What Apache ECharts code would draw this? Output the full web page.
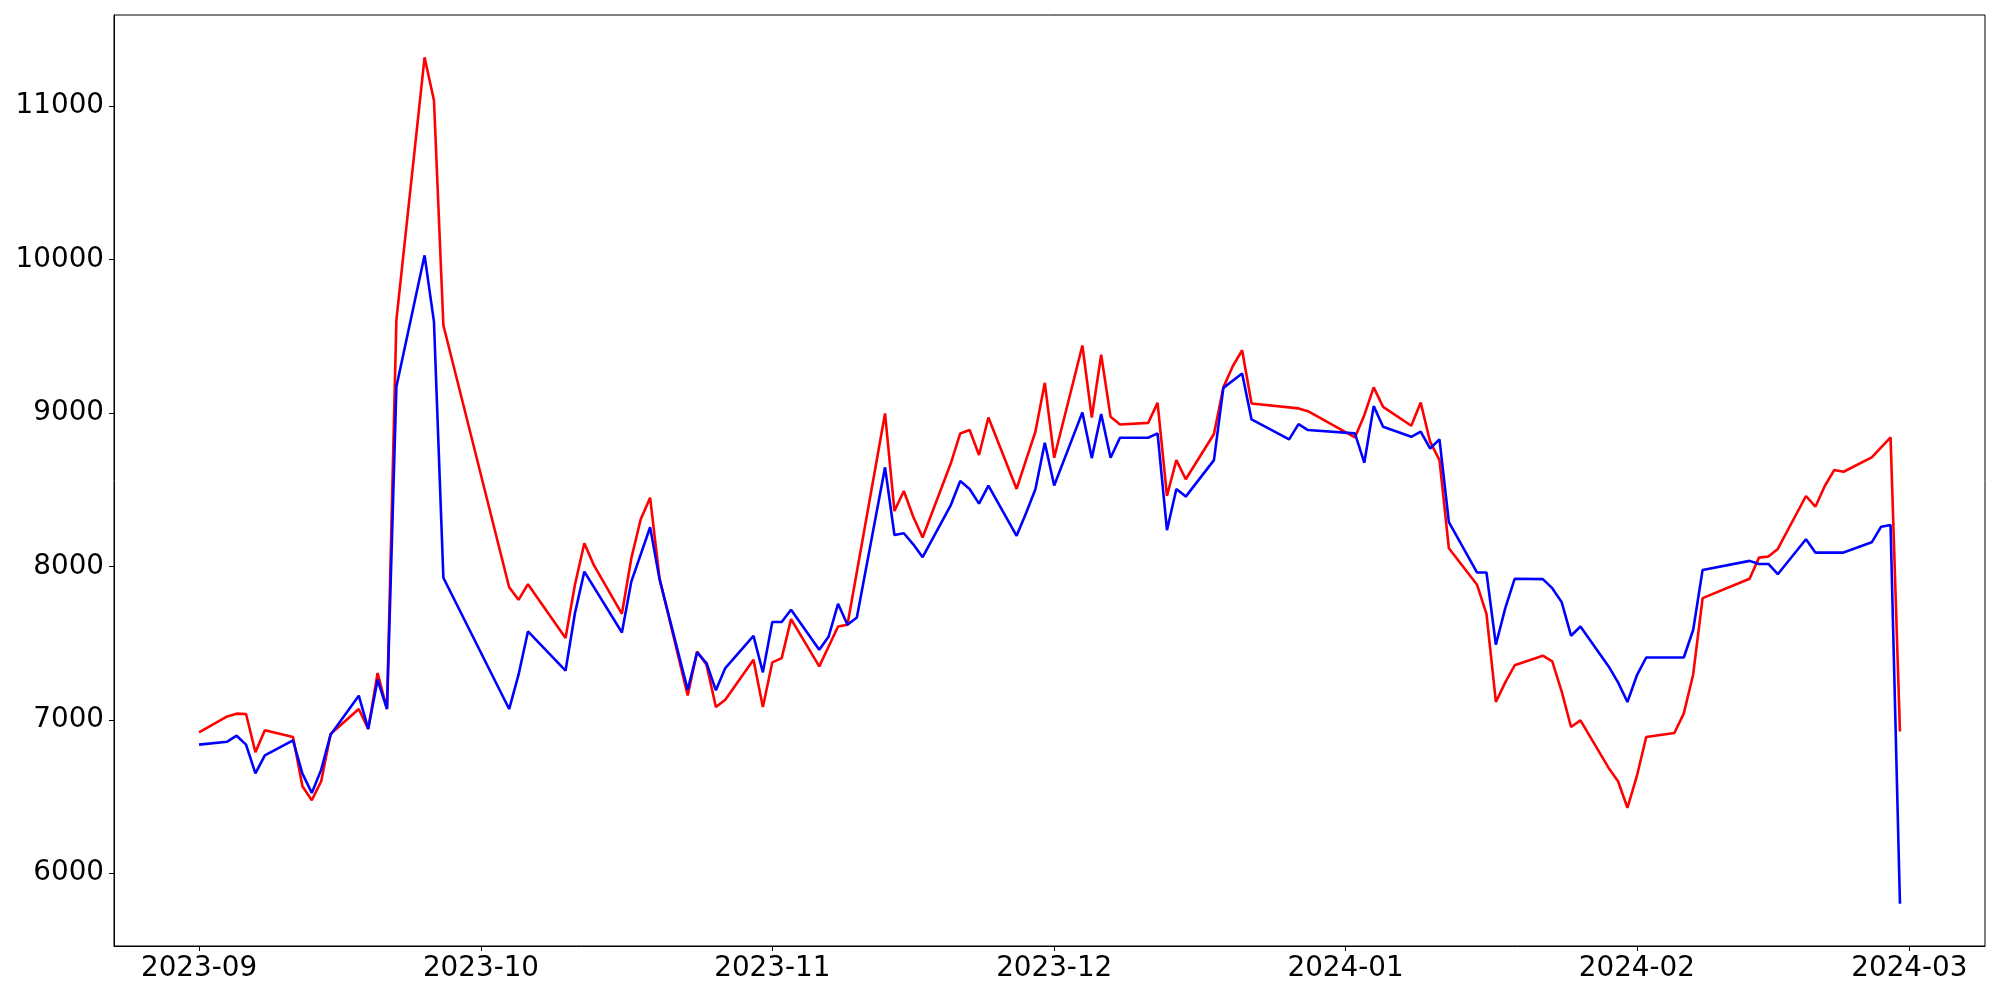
<!DOCTYPE html>
<html>
<head>
<meta charset="utf-8">
<script src="https://cdn.jsdelivr.net/npm/echarts@6/dist/echarts.min.js"></script>
<style>html,body{margin:0;padding:0;background:#fff;}#c{width:2000px;height:1000px;}</style>
</head>
<body>
<div id="c"></div>
<script>
const redDates = ["2023-09-01","2023-09-04","2023-09-05","2023-09-06","2023-09-07","2023-09-08","2023-09-11","2023-09-12","2023-09-13","2023-09-14","2023-09-15","2023-09-18","2023-09-19","2023-09-20","2023-09-21","2023-09-22","2023-09-25","2023-09-26","2023-09-27","2023-10-04","2023-10-05","2023-10-06","2023-10-10","2023-10-11","2023-10-12","2023-10-13","2023-10-16","2023-10-17","2023-10-18","2023-10-19","2023-10-20","2023-10-23","2023-10-24","2023-10-25","2023-10-26","2023-10-27","2023-10-30","2023-10-31","2023-11-01","2023-11-02","2023-11-03","2023-11-06","2023-11-07","2023-11-08","2023-11-09","2023-11-13","2023-11-14","2023-11-15","2023-11-16","2023-11-17","2023-11-20","2023-11-21","2023-11-22","2023-11-23","2023-11-24","2023-11-27","2023-11-28","2023-11-29","2023-11-30","2023-12-01","2023-12-04","2023-12-05","2023-12-06","2023-12-07","2023-12-08","2023-12-11","2023-12-12","2023-12-13","2023-12-14","2023-12-15","2023-12-18","2023-12-19","2023-12-20","2023-12-21","2023-12-22","2023-12-27","2023-12-28","2024-01-02","2024-01-03","2024-01-04","2024-01-05","2024-01-08","2024-01-09","2024-01-10","2024-01-11","2024-01-12","2024-01-15","2024-01-16","2024-01-17","2024-01-18","2024-01-19","2024-01-22","2024-01-23","2024-01-24","2024-01-25","2024-01-26","2024-01-29","2024-01-30","2024-01-31","2024-02-01","2024-02-02","2024-02-05","2024-02-06","2024-02-07","2024-02-08","2024-02-13","2024-02-14","2024-02-15","2024-02-16","2024-02-19","2024-02-20","2024-02-21","2024-02-22","2024-02-23","2024-02-26","2024-02-28","2024-02-29"];
const redValues = [6918,7022,7040,7038,6788,6931,6888,6566,6475,6599,6907,7070,6940,7305,7070,9605,11319,11037,9572,7864,7782,7884,7533,7880,8151,8010,7691,8053,8307,8448,7923,7159,7445,7359,7083,7131,7391,7083,7374,7402,7656,7348,7478,7608,7619,8997,8361,8492,8324,8188,8672,8867,8889,8726,8971,8505,8693,8878,9197,8708,9440,8971,9380,8975,8925,8936,9066,8459,8693,8568,8863,9167,9305,9409,9062,9030,9012,8841,8986,9167,9040,8917,9069,8813,8693,8118,7880,7691,7116,7244,7355,7418,7381,7185,6953,6996,6686,6599,6426,6632,6888,6914,7042,7297,7793,7919,8057,8064,8114,8459,8389,8524,8628,8617,8711,8841,6924];

const blueDates = ["2023-09-01","2023-09-04","2023-09-05","2023-09-06","2023-09-07","2023-09-08","2023-09-11","2023-09-12","2023-09-13","2023-09-14","2023-09-15","2023-09-18","2023-09-19","2023-09-20","2023-09-21","2023-09-22","2023-09-25","2023-09-26","2023-09-27","2023-10-04","2023-10-05","2023-10-06","2023-10-10","2023-10-11","2023-10-12","2023-10-16","2023-10-17","2023-10-19","2023-10-20","2023-10-23","2023-10-24","2023-10-25","2023-10-26","2023-10-27","2023-10-30","2023-10-31","2023-11-01","2023-11-02","2023-11-03","2023-11-06","2023-11-07","2023-11-08","2023-11-09","2023-11-10","2023-11-13","2023-11-14","2023-11-15","2023-11-16","2023-11-17","2023-11-20","2023-11-21","2023-11-22","2023-11-23","2023-11-24","2023-11-27","2023-11-28","2023-11-29","2023-11-30","2023-12-01","2023-12-04","2023-12-05","2023-12-06","2023-12-07","2023-12-08","2023-12-11","2023-12-12","2023-12-13","2023-12-14","2023-12-15","2023-12-18","2023-12-19","2023-12-21","2023-12-22","2023-12-26","2023-12-27","2023-12-28","2024-01-02","2024-01-03","2024-01-04","2024-01-05","2024-01-08","2024-01-09","2024-01-10","2024-01-11","2024-01-12","2024-01-15","2024-01-16","2024-01-17","2024-01-18","2024-01-19","2024-01-22","2024-01-23","2024-01-24","2024-01-25","2024-01-26","2024-01-29","2024-01-30","2024-01-31","2024-02-01","2024-02-02","2024-02-05","2024-02-06","2024-02-07","2024-02-08","2024-02-13","2024-02-14","2024-02-15","2024-02-16","2024-02-19","2024-02-20","2024-02-23","2024-02-26","2024-02-27","2024-02-28","2024-02-29"];
const blueValues = [6838,6857,6896,6838,6651,6768,6866,6649,6523,6675,6903,7157,6940,7261,7070,9171,10028,9594,7926,7070,7294,7576,7320,7695,7966,7569,7901,8255,7917,7196,7439,7370,7192,7337,7547,7309,7637,7637,7717,7456,7543,7756,7619,7667,8646,8205,8216,8144,8060,8400,8557,8505,8409,8527,8199,8346,8503,8806,8527,9004,8706,8993,8708,8839,8839,8867,8236,8505,8455,8693,9164,9258,8958,8828,8928,8889,8867,8676,9045,8910,8845,8878,8769,8828,8288,7960,7960,7489,7728,7919,7917,7858,7767,7548,7608,7348,7244,7116,7289,7406,7406,7406,7587,7977,8036,8016,8016,7949,8177,8090,8090,8157,8259,8270,5801];

const xTickLabels = ["2023-09","2023-10","2023-11","2023-12","2024-01","2024-02","2024-03"];
const yTickValues = [6000,7000,8000,9000,10000,11000];

function ts(s){ const p = s.split('-').map(Number); return Date.UTC(p[0], p[1]-1, p[2] || 1); }
const DAY = 86400000;
const start = ts("2023-09-01");
const xMin = start - 9.05 * DAY;
const xMax = start + 190.05 * DAY;
const xTicks = xTickLabels.map(ts);

const redData = redDates.map((d,i)=>[ts(d), redValues[i]]);
const blueData = blueDates.map((d,i)=>[ts(d), blueValues[i]]);

const font = {fontFamily:'DejaVu Sans', fontSize:27.8, color:'#000'};

const chart = echarts.init(document.getElementById('c'), null, {renderer:'canvas'});
chart.setOption({
  animation:false,
  backgroundColor:'#fff',
  grid:{left:114, right:15, top:15, bottom:54, show:true, borderColor:'#000', borderWidth:1, backgroundColor:'transparent'},
  xAxis:{
    type:'value', min:xMin, max:xMax, scale:true,
    axisLine:{show:true, onZero:false, lineStyle:{color:'#000', width:1}},
    axisTick:{show:true, inside:false, length:5, lineStyle:{color:'#000', width:1}, customValues:xTicks},
    axisLabel:Object.assign({margin:9, customValues:xTicks, hideOverlap:false,
      formatter:function(v){ const i = xTicks.indexOf(v); return i >= 0 ? xTickLabels[i] : ''; }}, font),
    splitLine:{show:false}
  },
  yAxis:{
    type:'value', min:5525, max:11595, scale:true,
    axisLine:{show:true, onZero:false, lineStyle:{color:'#000', width:1}},
    axisTick:{show:true, inside:false, length:5, lineStyle:{color:'#000', width:1}, customValues:yTickValues},
    axisLabel:Object.assign({margin:10, customValues:yTickValues, formatter:function(v){ return String(v); }}, font),
    splitLine:{show:false}
  },
  series:[
    {type:'line', data:redData, showSymbol:false, symbol:'none', lineStyle:{color:'#ff0000', width:2.6}, itemStyle:{color:'#ff0000'}, z:2},
    {type:'line', data:blueData, showSymbol:false, symbol:'none', lineStyle:{color:'#0000ff', width:2.6}, itemStyle:{color:'#0000ff'}, z:3}
  ]
});
</script>
</body>
</html>
